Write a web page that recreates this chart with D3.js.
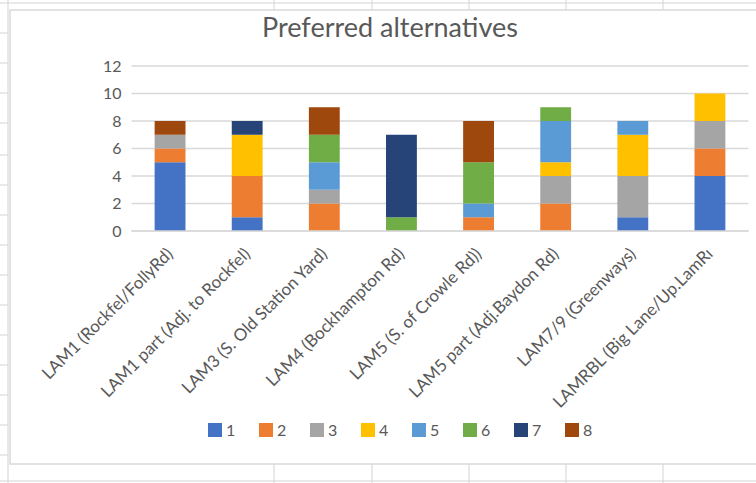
<!DOCTYPE html>
<html>
<head>
<meta charset="utf-8">
<script src="https://cdn.jsdelivr.net/npm/d3@7"></script>
<style>
  html, body { margin: 0; padding: 0; background: #fff; }
  svg { display: block; }
  text { font-family: Lato, "Liberation Sans", sans-serif; }
</style>
</head>
<body>
<svg id="chart" width="756" height="483"></svg>
<script>
const categories = [
  "LAM1 (Rockfel/FollyRd)",
  "LAM1 part (Adj. to Rockfel)",
  "LAM3 (S. Old Station Yard)",
  "LAM4 (Bockhampton Rd)",
  "LAM5 (S. of Crowle Rd))",
  "LAM5 part (Adj.Baydon Rd)",
  "LAM7/9 (Greenways)",
  "LAMRBL (Big Lane/Up.LamRı"
];
const seriesNames = ["1", "2", "3", "4", "5", "6", "7", "8"];
const s1 = [5, 1, 0, 0, 0, 0, 1, 4];
const s2 = [1, 3, 2, 0, 1, 2, 0, 2];
const s3 = [1, 0, 1, 0, 0, 2, 3, 2];
const s4 = [0, 3, 0, 0, 0, 1, 3, 2];
const s5 = [0, 0, 2, 0, 1, 3, 1, 0];
const s6 = [0, 0, 2, 1, 3, 1, 0, 0];
const s7 = [0, 1, 0, 6, 0, 0, 0, 0];
const s8 = [1, 0, 2, 0, 3, 0, 0, 0];
const yTicks = [0, 2, 4, 6, 8, 10, 12];
const colors = ["#4472C4", "#ED7D31", "#A5A5A5", "#FFC000", "#5B9BD5", "#70AD47", "#264478", "#9E480E"];

const seriesValues = [s1, s2, s3, s4, s5, s6, s7, s8];
const table = categories.map((c, i) => {
  const row = { cat: c };
  seriesNames.forEach((s, j) => row[s] = seriesValues[j][i]);
  return row;
});

const svg = d3.select("#chart");
const textColor = "#595959";

// spreadsheet background grid
const bg = svg.append("g");
const gridCol = "#d4d4d4";
[8].forEach(x => bg.append("line").attr("x1", x).attr("x2", x).attr("y1", 0).attr("y2", 483).attr("stroke", gridCol));
[33, 63, 93, 123, 155, 185, 215, 245, 275, 305, 335, 365, 395, 425, 455].forEach(y =>
  bg.append("line").attr("x1", 0).attr("x2", 8).attr("y1", y).attr("y2", y).attr("stroke", gridCol));
[274, 372, 469, 566, 663].forEach(x => {
  bg.append("line").attr("x1", x).attr("x2", x).attr("y1", 0).attr("y2", 10).attr("stroke", gridCol);
  bg.append("line").attr("x1", x).attr("x2", x).attr("y1", 464).attr("y2", 483).attr("stroke", gridCol);
});
bg.append("line").attr("x1", 0).attr("x2", 756).attr("y1", 3).attr("y2", 3).attr("stroke", gridCol);
bg.append("line").attr("x1", 0).attr("x2", 756).attr("y1", 481).attr("y2", 481).attr("stroke", gridCol);

// chart area
svg.append("rect").attr("x", 10).attr("y", 10).attr("width", 760).attr("height", 454)
  .attr("fill", "#fff").attr("stroke", "#d9d9d9").attr("stroke-width", 1.5);

const x = d3.scaleBand().domain(categories).range([131.5, 748.5]).paddingInner(0.6).paddingOuter(0.3);
const y = d3.scaleLinear().domain([0, 12]).range([231, 66]);

// gridlines
svg.append("g").selectAll("line").data(yTicks).join("line")
  .attr("x1", 131.5).attr("x2", 748.5)
  .attr("y1", d => y(d)).attr("y2", d => y(d))
  .attr("stroke", "#d9d9d9").attr("stroke-width", 1.5);

// y axis labels
const yAxis = d3.axisLeft(y).tickValues(yTicks).tickSize(0).tickPadding(10);
const yg = svg.append("g").attr("transform", "translate(131.5,0)").call(yAxis);
yg.select(".domain").remove();
yg.selectAll("text").attr("fill", textColor).style("font-size", "16px").style("font-family", "Lato, 'Liberation Sans', sans-serif");

// stacked bars
const stack = d3.stack().keys(seriesNames)(table);
svg.append("g").selectAll("g").data(stack).join("g")
  .attr("fill", (d, i) => colors[i])
  .selectAll("rect").data(d => d).join("rect")
  .attr("x", d => x(d.data.cat))
  .attr("width", x.bandwidth())
  .attr("y", d => y(d[1]))
  .attr("height", d => y(d[0]) - y(d[1]));

// x axis
const xAxis = d3.axisBottom(x).tickSize(0).tickPadding(0);
const xg = svg.append("g").attr("transform", "translate(0,231)").call(xAxis);
xg.select(".domain").attr("stroke", "#d9d9d9").attr("stroke-width", 1.5).attr("d", "M131.5,0H748.5");
xg.selectAll("text")
  .attr("fill", textColor)
  .style("font-size", "17px")
  .style("font-family", "Lato, 'Liberation Sans', sans-serif")
  .attr("text-anchor", "end")
  .attr("dy", null)
  .attr("y", 0)
  .attr("transform", "translate(4,24) rotate(-45)");

// title
svg.append("text").attr("x", 390).attr("y", 37).attr("text-anchor", "middle")
  .attr("fill", textColor).style("font-size", "27px").text("Preferred alternatives");

// legend
const lg = svg.append("g");
const legItems = lg.selectAll("g").data(seriesNames).join("g")
  .attr("transform", (d, i) => `translate(${208 + i * 51},423)`);
legItems.append("rect").attr("width", 14).attr("height", 14).attr("fill", (d, i) => colors[i]);
legItems.append("text").attr("x", 18).attr("y", 13).attr("fill", textColor)
  .style("font-size", "16px").text(d => d);
</script>
</body>
</html>
